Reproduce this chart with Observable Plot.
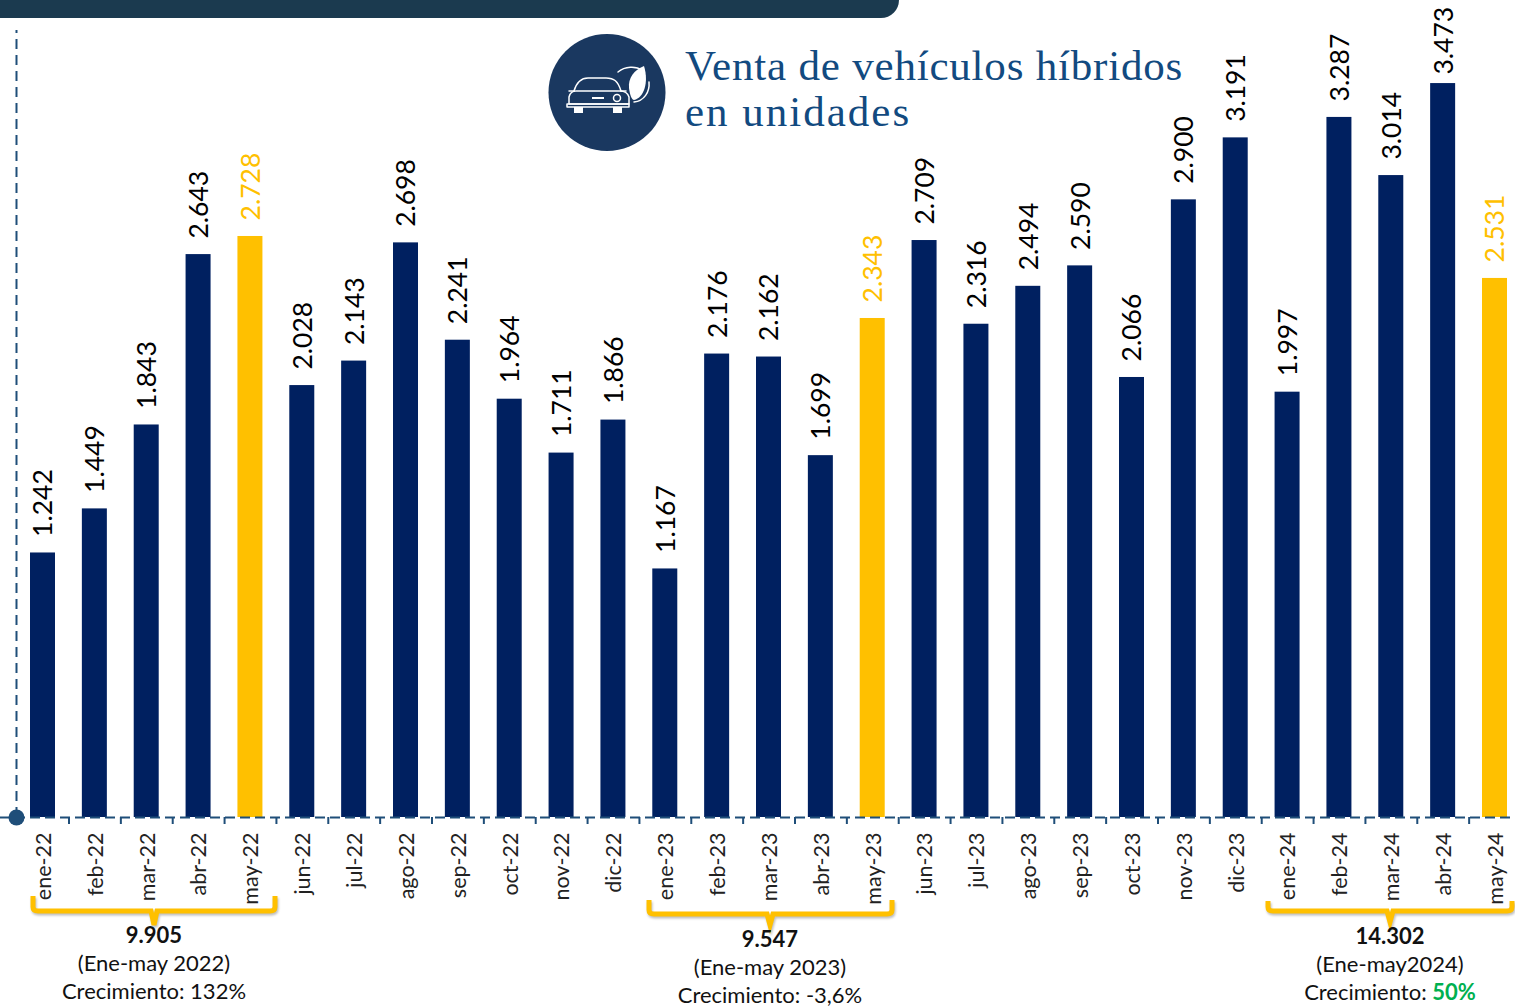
<!DOCTYPE html>
<html lang="es"><head><meta charset="utf-8">
<script src="https://cdn.jsdelivr.net/npm/d3@7"></script>
<script src="https://cdn.jsdelivr.net/npm/@observablehq/plot@0.6"></script>
<style>
html,body{margin:0;padding:0;background:#fff}
#page{position:relative;width:1515px;height:1007px;overflow:hidden;font-family:Lato,sans-serif}
#chart svg{display:block}
#header{position:absolute;left:0;top:0;width:899px;height:18px;background:#1b3a4f;border-bottom-right-radius:18px}
#title{position:absolute;left:685px;top:43px;font:43px/46px "Liberation Serif",serif;color:#124a80;white-space:nowrap}
#overlay{position:absolute;left:0;top:0}
.note{position:absolute;transform:translate(-50%,-50%);font-size:22px;line-height:28px;color:#111;white-space:nowrap;text-align:center}
.note .g{color:#00b050;font-weight:700}
</style></head><body>
<div id="page">
<div id="chart"></div>
<div id="header"></div>
<svg id="overlay" width="1515" height="1007" fill="none">
  <circle cx="607" cy="92.500" r="58.500" fill="#1a3860"/>
  <g stroke="#fff" stroke-width="1.500" stroke-linejoin="round" stroke-linecap="round">
    <path d="M574 91 C577 81 582 78 588 78 L606 78 C614 78 618 81 621 91"/>
    <path d="M569 104 L569 97 C570 93 573 91 576 91 L620 91 C625 91 628 94 629 97 L629 104 Z"/>
    <path d="M567 104 H629 V107 H567 Z"/>
    <circle cx="617" cy="98" r="3.500"/>
    <path d="M569 91 L574 91 M621 91 L626 91"/>
    <path d="M618 72 C625 66 636 66 642 70 M634 102 C644 101 650 92 649 82"/>
  </g>
  <path d="M574 107 H583 V113 H574 Z M613 107 H622 V113 H613 Z M592 97 H604 V99 H592 Z" fill="#fff"/>
  <path d="M644 66 C634 70 628 78 629 88 C630 96 632 100 634 100 C644 98 649 82 644 66 Z" fill="#fff"/>
</svg>
<div id="title"><span style="letter-spacing:.8px">Venta de vehículos híbridos</span><br><span style="letter-spacing:2px">en unidades</span></div>
</div>
<script>
const months = ["ene-22","feb-22","mar-22","abr-22","may-22","jun-22","jul-22","ago-22","sep-22","oct-22","nov-22","dic-22",
  "ene-23","feb-23","mar-23","abr-23","may-23","jun-23","jul-23","ago-23","sep-23","oct-23","nov-23","dic-23",
  "ene-24","feb-24","mar-24","abr-24","may-24"];
const values = [1242,1449,1843,2643,2728,2028,2143,2698,2241,1964,1711,1866,
  1167,2176,2162,1699,2343,2709,2316,2494,2590,2066,2900,3191,
  1997,3287,3014,3473,2531];
const labels = ["1.242","1.449","1.843","2.643","2.728","2.028","2.143","2.698","2.241","1.964","1.711","1.866",
  "1.167","2.176","2.162","1.699","2.343","2.709","2.316","2.494","2.590","2.066","2.900","3.191",
  "1.997","3.287","3.014","3.473","2.531"];
// The reference draws the abr-24 bar a little shorter than its printed 3.473,
// and sets that label closer to the bar so it stays inside the picture.
const drawnAs = {"abr-24": 3446};
const labelAs = {"abr-24": 3413};
const rows = months.map((m,i)=>({month:m,value:drawnAs[m]??values[i],labelY:labelAs[m]??values[i],label:labels[i]}));
const navy="#002060", gold="#FFC000", line="#1f4e79";
const tone = d => d.month.startsWith("may") ? gold : navy;

const plot = Plot.plot({
  width:1515,height:1007,marginTop:0,marginBottom:190,marginLeft:0,marginRight:0,
  style:{background:"#fff",fontFamily:"Lato,sans-serif",overflow:"visible"},
  x:{type:"band",domain:months,range:[3.14,1533.86],padding:0.518,round:false,label:null},
  y:{domain:[0,3836],axis:null,label:null},
  marks:[
    Plot.barY(rows,{x:"month",y:"value",fill:tone}),
    Plot.ruleY([0],{stroke:line,strokeWidth:2,strokeDasharray:"10 5"}),
    Plot.ruleX(months,{x:d=>d,dx:26,y1:0,y2:-33,stroke:line,strokeWidth:2}),
    Plot.ruleX(["ene-22"],{x:d=>d,dx:-26.5,y1:0,y2:3695,stroke:line,strokeWidth:2,strokeDasharray:"10 6"}),
    Plot.dot(["ene-22"],{x:d=>d,y:()=>0,dx:-26.5,r:8,fill:line}),
    Plot.text(rows,{x:"month",y:"labelY",text:"label",rotate:-90,dx:1,dy:-16,textAnchor:"start",lineAnchor:"middle",fontSize:26.5,fill:d=>tone(d)===gold?gold:"#000"}),
    Plot.axisX({tickRotate:-90,tickSize:0,tickPadding:15,dx:1,fontSize:21.5,fill:"#222",label:null,tickFormat:d=>d})
  ]
});
document.getElementById("chart").append(plot);

const groupTotals=["9.905","9.547","14.302"];
const groupPeriods=["(Ene-may 2022)","(Ene-may 2023)","(Ene-may2024)"];
const groupGrowth=["Crecimiento: 132%","Crecimiento: -3,6%",'Crecimiento: <span class="g">50%</span>'];
const groupPlace=[{l:33,r:275,tip:154,top:896,bar:911,end:925,text:949},
                  {l:649,r:892,tip:770,top:900,bar:914,end:925,text:953},
                  {l:1268,r:1512,tip:1390,top:901,bar:911,end:922,text:950}];
const overlay=d3.select("#overlay");
groupPlace.forEach((p,i)=>{
  overlay.append("path")
    .attr("d",`M${p.l} ${p.top} V${p.bar-4} Q${p.l} ${p.bar} ${p.l+5} ${p.bar} H${p.tip-3} L${p.tip} ${p.end} L${p.tip+3} ${p.bar} H${p.r-5} Q${p.r} ${p.bar} ${p.r} ${p.bar-4} V${p.top}`)
    .attr("stroke",gold).attr("stroke-width",5).attr("fill","none")
    .style("filter","drop-shadow(1px 2px 1px rgba(0,0,0,.25))");
  const n=document.createElement("div");
  n.className="note"; n.style.left=p.tip+"px"; n.style.top=(p.text+14)+"px";
  n.innerHTML=`<b>${groupTotals[i]}</b><br>${groupPeriods[i]}<br>${groupGrowth[i]}`;
  document.getElementById("page").append(n);
});
</script>
</body></html>
